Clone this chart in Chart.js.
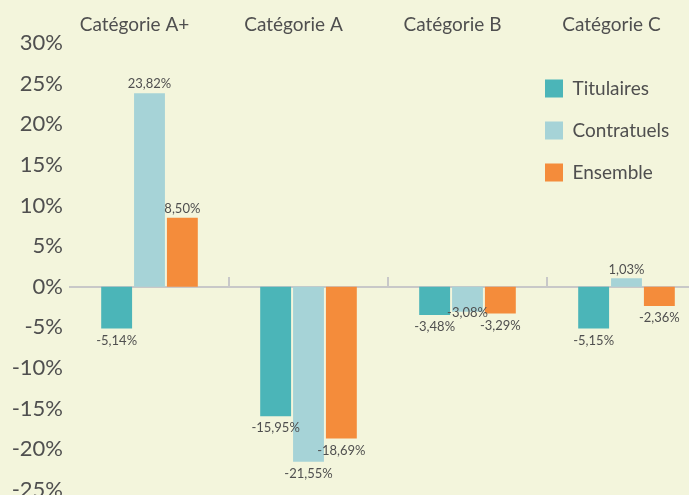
<!DOCTYPE html>
<html>
<head>
<meta charset="utf-8">
<script src="https://cdn.jsdelivr.net/npm/chart.js@4"></script>
<style>
  html, body { margin: 0; padding: 0; overflow: hidden; background: #f3f5dc; }
  #wrap { width: 706px; height: 510px; position: relative; }
</style>
</head>
<body>
<div id="wrap"><canvas id="graphique"></canvas></div>
<script>
// Données
var categories = ['Catégorie A+', 'Catégorie A', 'Catégorie B', 'Catégorie C'];
var series = ['Titulaires', 'Contratuels', 'Ensemble'];
var titulaires = [-5.14, -15.95, -3.48, -5.15];
var contratuels = [23.82, -21.55, -3.08, 1.03];
var ensemble = [8.50, -18.69, -3.29, -2.36];
var yMin = -25, yMax = 30, yStep = 5;

var couleurs = ['#4bb5b8', '#a6d3d7', '#f48c3b'];
var texte = '#4f4f4f';
var police = 'Lato';

function formatFr(v) {
    return v.toFixed(2).replace('.', ',') + '%';
}

// Étiquettes de valeur au bout des barres (évite les chevauchements)
var etiquettes = {
    id: 'etiquettes',
    afterDatasetsDraw: function (chart) {
        var ctx = chart.ctx;
        ctx.save();
        ctx.font = '13px ' + police;
        ctx.fillStyle = texte;
        ctx.textAlign = 'center';
        ctx.textBaseline = 'middle';
        var h = 14;
        for (var i = 0; i < categories.length; i++) {
            var places = [];
            chart.data.datasets.forEach(function (ds, d) {
                var bar = chart.getDatasetMeta(d).data[i];
                var v = ds.data[i];
                var txt = formatFr(v);
                var w = ctx.measureText(txt).width;
                var y = v >= 0 ? bar.y - 9 : bar.y + 12;
                var bouge = true;
                while (bouge) {
                    bouge = false;
                    places.forEach(function (p) {
                        if (Math.abs(p.x - bar.x) < (p.w + w) / 2 && Math.abs(p.y - y) < h - 2) {
                            y = p.y - h;
                            bouge = true;
                        }
                    });
                }
                places.push({ x: bar.x, y: y, w: w });
                ctx.fillText(txt, bar.x, y);
            });
        }
        ctx.restore();
    }
};

// Légende placée dans la zone du graphique, à droite
var placeLegende = {
    id: 'placeLegende',
    afterLayout: function (chart) {
        var lg = chart.legend;
        if (!lg) return;
        var w = lg.width;
        lg.left = 522;
        lg.right = lg.left + w;
        lg.top = 56;
        lg.bottom = lg.top + 200;
    }
};

var canvas = document.getElementById('graphique');

var datos = {
    labels: categories,
    datasets: [
        { label: series[0], data: titulaires, backgroundColor: couleurs[0] },
        { label: series[1], data: contratuels, backgroundColor: couleurs[1] },
        { label: series[2], data: ensemble, backgroundColor: couleurs[2] }
    ]
};

var configuration = {
    type: 'bar',
    data: datos,
    plugins: [etiquettes, placeLegende],
    options: {
        responsive: true,
        maintainAspectRatio: false,
        animation: false,
        layout: { padding: { top: 0, right: 0, bottom: 20, left: 0 } },
        datasets: {
            bar: { categoryPercentage: 0.62, barPercentage: 0.94 }
        },
        plugins: {
            tooltip: { enabled: false },
            legend: {
                position: 'chartArea',
                align: 'start',
                labels: {
                    boxWidth: 18,
                    boxHeight: 18,
                    padding: 23,
                    color: texte,
                    font: { family: police, size: 19 }
                }
            }
        },
        scales: {
            x: {
                position: 'top',
                offset: true,
                grid: { display: false, drawTicks: false },
                border: { display: false },
                ticks: {
                    color: texte,
                    padding: 7,
                    labelOffset: -15,
                    font: { family: police, size: 19 }
                },
                afterFit: function (s) { s.height = 43; }
            },
            x2: {
                axis: 'x',
                type: 'category',
                labels: categories,
                position: { y: 0 },
                offset: true,
                z: 1,
                grid: {
                    offset: true,
                    drawOnChartArea: false,
                    drawTicks: true,
                    tickLength: -11,
                    lineWidth: 2,
                    color: function (c) { return c.index === 0 ? 'rgba(0,0,0,0)' : '#c8c8c8'; }
                },
                border: { display: true, color: '#c8c8c8', width: 2 },
                ticks: { display: false },
                afterFit: function (s) { s.height = 0; }
            },
            y: {
                min: yMin,
                max: yMax,
                grid: { display: false, drawTicks: false },
                border: { display: false },
                ticks: {
                    stepSize: yStep,
                    color: texte,
                    padding: 7,
                    font: { family: police, size: 22 },
                    callback: function (v) { return v + '%'; }
                },
                afterFit: function (s) { s.width = 70; }
            }
        }
    }
};

var miGrafico = new Chart(canvas, configuration);
</script>
</body>
</html>
